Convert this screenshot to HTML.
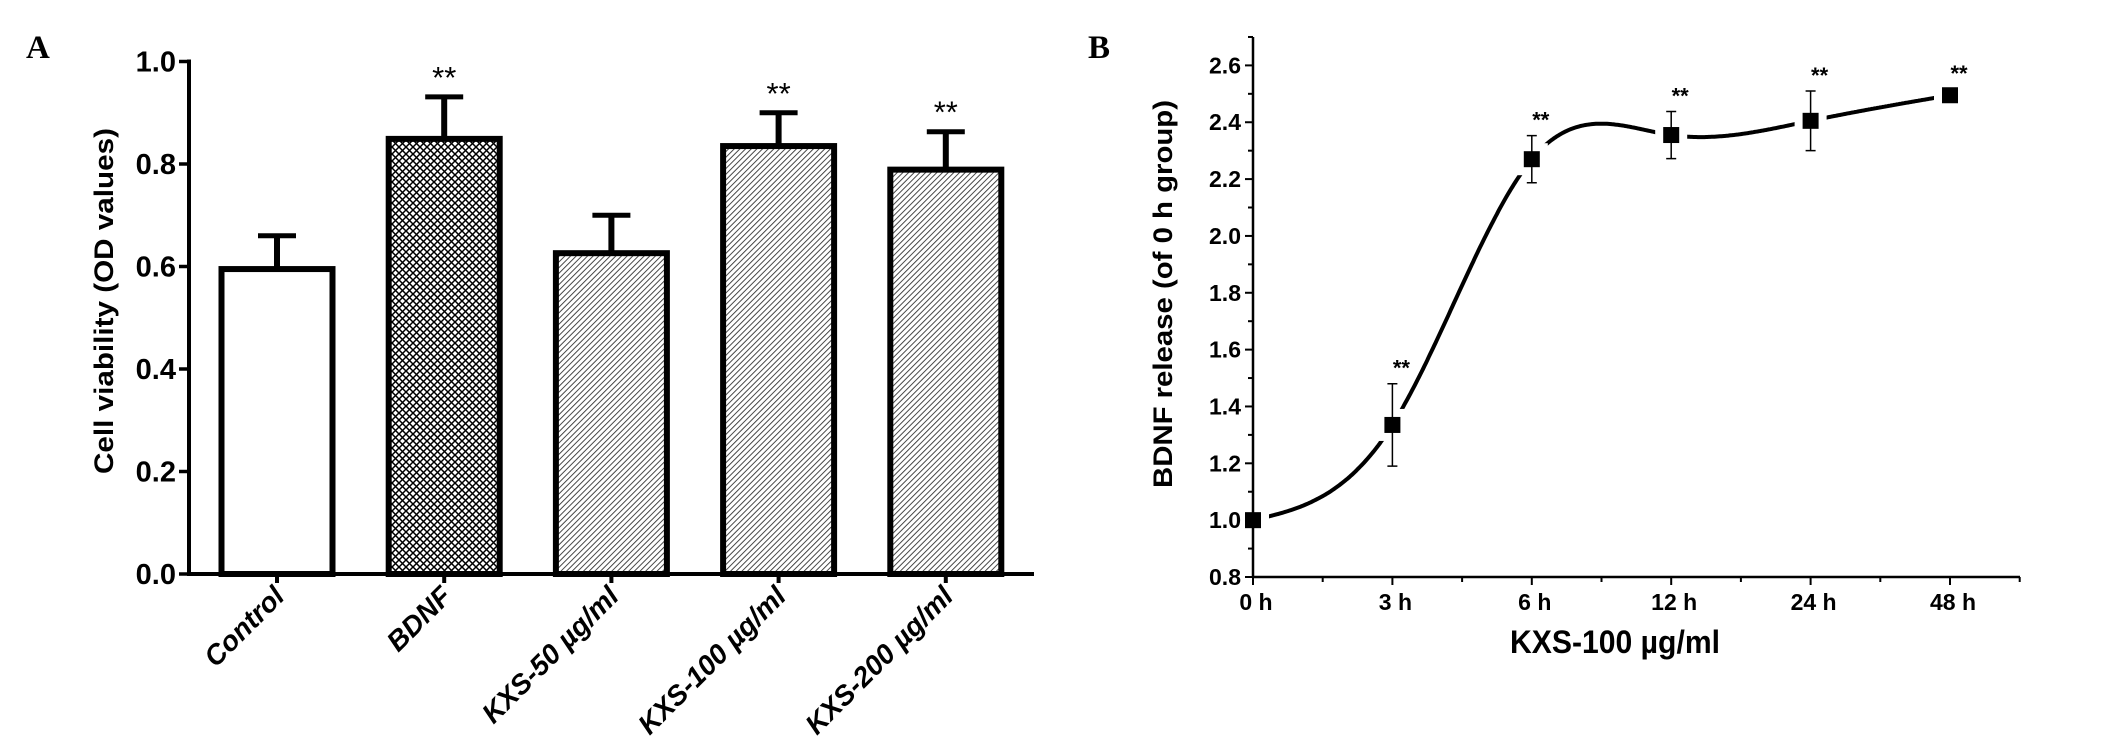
<!DOCTYPE html>
<html><head><meta charset="utf-8"><style>
html,body{margin:0;padding:0;background:#fff;overflow:hidden;}
svg{display:block;font-family:"Liberation Sans Narrow","Liberation Sans",sans-serif;}
</style></head><body>
<svg id="fig" width="2128" height="743" viewBox="0 0 2128 743">
<defs>
<pattern id="cross" width="7" height="7" patternUnits="userSpaceOnUse">
<rect width="7" height="7" fill="#fff"/>
<path d="M0,0 L7,7 M7,0 L0,7" stroke="#000" stroke-width="1.5"/>
</pattern>
<pattern id="diag" width="4" height="4" patternUnits="userSpaceOnUse" patternTransform="rotate(45)">
<rect width="4" height="4" fill="#fff"/>
<line x1="0" y1="0" x2="0" y2="4" stroke="#333" stroke-width="1.8"/>
</pattern>
</defs>
<text x="26" y="58" font-family="Liberation Serif" font-weight="bold" font-size="33">A</text>
<text x="1088" y="58" font-family="Liberation Serif" font-weight="bold" font-size="33">B</text>
<g id="ga"></g>
<g id="gb"></g>
</svg>
<script>
const barCategories = ["Control","BDNF","KXS-50 µg/ml","KXS-100 µg/ml","KXS-200 µg/ml"];
const barValues = [0.595, 0.849, 0.626, 0.835, 0.789];
const barErrors = [0.065, 0.082, 0.074, 0.065, 0.074];
const barSig = ["", "**", "", "**", "**"];
const barFills = ["#fff","url(#cross)","url(#diag)","url(#diag)","url(#diag)"];
const barTicks = ["0.0","0.2","0.4","0.6","0.8","1.0"];

const lineCategories = ["0 h","3 h","6 h","12 h","24 h","48 h"];
const lineValues = [1.0, 1.335, 2.27, 2.355, 2.405, 2.495];
const lineErrors = [0, 0.145, 0.083, 0.083, 0.105, 0];
const lineSig = ["", "**", "**", "**", "**", "**"];
const lineTicks = ["0.8","1.0","1.2","1.4","1.6","1.8","2.0","2.2","2.4","2.6"];

const NS="http://www.w3.org/2000/svg";
function mk(parent,tag,attrs,text){const e=document.createElementNS(NS,tag);for(const k in attrs)e.setAttribute(k,attrs[k]);if(text!==undefined)e.textContent=text;parent.appendChild(e);return e;}

// Panel A
const ga=document.getElementById('ga');
const ax0=189, ay0=574, ay1=61.5, axEnd=1034;
const yA=v=>ay0-(v/1.0)*(ay0-ay1);
const xA=i=>277+i*167.2;
const bw=111;
barValues.forEach((v,i)=>{
  const cx=xA(i), top=yA(v), et=yA(v+barErrors[i]);
  const ln=mk(ga,'line',{x1:cx,y1:top,x2:cx,y2:et,stroke:'#000','stroke-width':6});
  
  
  const cap=mk(ga,'line',{x1:cx-19,y1:et,x2:cx+19,y2:et,stroke:'#000','stroke-width':5});
  
  
  const r=mk(ga,'rect',{x:cx-bw/2,y:top,width:bw,height:ay0-top,fill:barFills[i],stroke:'#000','stroke-width':6});
  
  
  if(barSig[i]){const s=mk(ga,'text',{x:cx,y:et-9,'text-anchor':'middle','font-size':31,'font-family':'Liberation Sans'},barSig[i]);
    
    }
  const t=mk(ga,'line',{x1:cx,y1:ay0,x2:cx,y2:ay0+9,stroke:'#000','stroke-width':4});
  
  
  const lb=mk(ga,'text',{x:0,y:0,'text-anchor':'end','font-size':28,'font-weight':'bold','font-style':'italic','font-family':'Liberation Sans',transform:`translate(${cx+9},${ay0+24}) rotate(-45)`},barCategories[i]);
  
  
});
barTicks.forEach((t,i)=>{
  const v=parseFloat(t), y=yA(v);
  const tk=mk(ga,'line',{x1:ax0-10,y1:y,x2:ax0,y2:y,stroke:'#000','stroke-width':3.5});
  
  
  const tl=mk(ga,'text',{x:ax0-13,y:y+10,'text-anchor':'end','font-size':29,'font-weight':'bold'},t);
  
  
});
{const a=mk(ga,'line',{x1:ax0,y1:ay1-2,x2:ax0,y2:ay0+2,stroke:'#000','stroke-width':4});
const b=mk(ga,'line',{x1:ax0-2,y1:ay0,x2:axEnd,y2:ay0,stroke:'#000','stroke-width':4});
const yt=mk(ga,'text',{x:0,y:0,'text-anchor':'middle','font-size':27,'font-weight':'bold','font-family':'Liberation Sans',textLength:346,lengthAdjust:'spacingAndGlyphs',transform:`translate(113,301) rotate(-90)`},'Cell viability (OD values)');}

// Panel B
const gb=document.getElementById('gb');
const bx0=1253, by0=577, byTop=37, bxEnd=2020;
const yB=v=>by0-(v-0.8)/1.8*(by0-65.4);
const xB=i=>bx0+i*139.4;
function spline(xs,ys){const n=xs.length,h=[],al=[0],l=[1],mu=[0],z=[0],c=new Array(n).fill(0),b=[],d=[];
for(let i=0;i<n-1;i++)h.push(xs[i+1]-xs[i]);
for(let i=1;i<n-1;i++)al.push(3/h[i]*(ys[i+1]-ys[i])-3/h[i-1]*(ys[i]-ys[i-1]));
for(let i=1;i<n-1;i++){l[i]=2*(xs[i+1]-xs[i-1])-h[i-1]*mu[i-1];mu[i]=h[i]/l[i];z[i]=(al[i]-h[i-1]*z[i-1])/l[i];}
for(let j=n-2;j>=0;j--){if(j>0)c[j]=z[j]-mu[j]*c[j+1];b[j]=(ys[j+1]-ys[j])/h[j]-h[j]*(c[j+1]+2*c[j])/3;d[j]=(c[j+1]-c[j])/(3*h[j]);}
return t=>{let j=Math.min(n-2,Math.max(0,Math.floor(t)));const dx=t-xs[j];return ys[j]+b[j]*dx+c[j]*dx*dx+d[j]*dx*dx*dx;};}
const sp=spline(lineValues.map((_,i)=>i),lineValues);
let dstr='';for(let k=0;k<=500;k++){const t=k/500*(lineValues.length-1);dstr+=(k?'L':'M')+xB(t).toFixed(1)+','+yB(sp(t)).toFixed(1);}
{const p=mk(gb,'path',{d:dstr,fill:'none',stroke:'#000','stroke-width':4});}
lineValues.forEach((v,i)=>{
  const cx=xB(i), cy=yB(v);
  const w=mk(gb,'rect',{x:cx-16,y:cy-16,width:32,height:32,fill:'#fff'});
  
  
  if(lineErrors[i]>0){const e=lineErrors[i];
    const el=mk(gb,'path',{d:`M${cx},${yB(v+e)}V${yB(v-e)}M${cx-5},${yB(v+e)}H${cx+5}M${cx-5},${yB(v-e)}H${cx+5}`,stroke:'#000','stroke-width':1.5,fill:'none'});
    
    }
  const m=mk(gb,'rect',{x:cx-8,y:cy-8,width:16,height:16,fill:'#000'});
  
  
  if(lineSig[i]){const top=lineErrors[i]>0?yB(v+lineErrors[i]):cy-6;
    const s=mk(gb,'text',{x:cx+9,y:top-8,'text-anchor':'middle','font-size':22,'font-weight':'bold','font-family':'Liberation Sans'},lineSig[i]);
    
    }
  const tk=mk(gb,'line',{x1:cx,y1:by0,x2:cx,y2:by0+8,stroke:'#000','stroke-width':2});
  
  
  const mt=mk(gb,'line',{x1:cx+69.7,y1:by0,x2:cx+69.7,y2:by0+5,stroke:'#000','stroke-width':2});
  
  
  const lb=mk(gb,'text',{x:cx+3,y:by0+33,'text-anchor':'middle','font-size':23,'font-weight':'bold'},lineCategories[i]);
  
  
});
lineTicks.forEach(t=>{const v=parseFloat(t),y=yB(v);
  const tk=mk(gb,'line',{x1:bx0-8,y1:y,x2:bx0,y2:y,stroke:'#000','stroke-width':2});
  
  
  const mt=mk(gb,'line',{x1:bx0-5,y1:yB(v+0.1),x2:bx0,y2:yB(v+0.1),stroke:'#000','stroke-width':2});
  
  
  const tl=mk(gb,'text',{x:bx0-12,y:y+8,'text-anchor':'end','font-size':23,'font-weight':'bold'},t);
  
  
});
{const a=mk(gb,'line',{x1:bx0,y1:byTop,x2:bx0,y2:by0+1,stroke:'#000','stroke-width':2.5});
const b=mk(gb,'line',{x1:bx0-1,y1:by0,x2:bxEnd,y2:by0,stroke:'#000','stroke-width':2.5});
const xt=mk(gb,'text',{x:1615,y:653,'text-anchor':'middle','font-size':32,'font-weight':'bold',textLength:210,lengthAdjust:'spacingAndGlyphs'},'KXS-100 µg/ml');
const yt=mk(gb,'text',{x:0,y:0,'text-anchor':'middle','font-size':27,'font-weight':'bold','font-family':'Liberation Sans',textLength:388,lengthAdjust:'spacingAndGlyphs',transform:`translate(1172,294) rotate(-90)`},'BDNF release (of 0 h group)');}
</script>
</body></html>
